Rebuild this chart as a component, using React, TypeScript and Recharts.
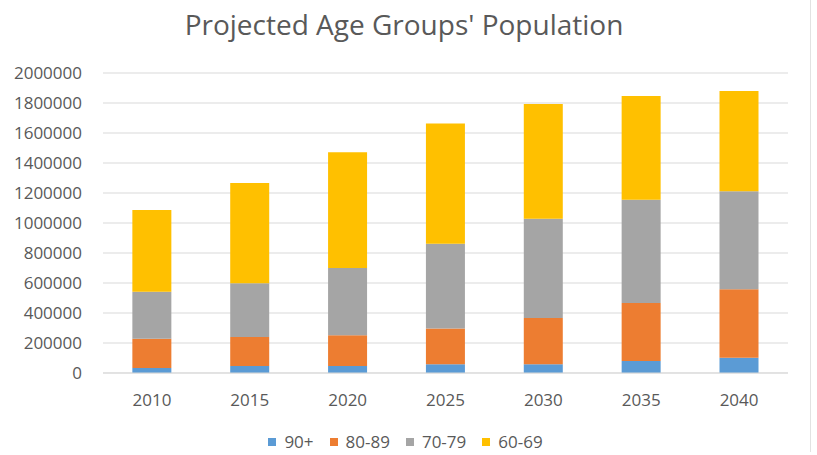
import React from 'react';
import { BarChart, Bar, XAxis, YAxis, CartesianGrid, Legend } from 'recharts';

const years = ['2010', '2015', '2020', '2025', '2030', '2035', '2040'];
const age90plus = [33000, 47000, 47000, 58000, 58000, 80000, 102000];
const age80to89 = [196000, 193000, 204000, 238000, 309000, 387000, 456000];
const age70to79 = [313000, 358000, 449000, 566000, 662000, 688000, 653000];
const age60to69 = [545000, 669000, 771000, 802000, 764000, 691000, 669000];
const yTicks = [0, 200000, 400000, 600000, 800000, 1000000, 1200000, 1400000, 1600000, 1800000, 2000000];

const seriesNames = ['90+', '80-89', '70-79', '60-69'];
const seriesColors = ['#5B9BD5', '#ED7D31', '#A5A5A5', '#FFC000'];

const data = years.map((y, i) => ({
  year: y,
  '90+': age90plus[i],
  '80-89': age80to89[i],
  '70-79': age70to79[i],
  '60-69': age60to69[i],
}));

const FONT = '"Open Sans", sans-serif';
const TEXT = '#595959';

const CustomLegend = () => (
  <div style={{ display: 'flex', justifyContent: 'center', alignItems: 'center', fontFamily: FONT, fontSize: 17, color: TEXT, paddingRight: 6 }}>
    {seriesNames.map((n, i) => (
      <div key={n} style={{ display: 'flex', alignItems: 'center', marginRight: i < 3 ? 16 : 0 }}>
        <span style={{ display: 'inline-block', width: 8, height: 8, background: seriesColors[i], marginRight: 8 }} />
        <span>{n}</span>
      </div>
    ))}
  </div>
);

export default function App() {
  return (
    <div style={{ position: 'absolute', left: 0, top: 0, width: 817, height: 455, background: '#fff' }}>
      <svg width={817} height={50} style={{ position: 'absolute', left: 0, top: 0 }}>
        <text x={404} y={35} textAnchor="middle" fontFamily={FONT} fontSize={28} fill={TEXT}>
          Projected Age Groups' Population
        </text>
      </svg>
      <div style={{ position: 'absolute', left: 810, top: 0, width: 1, height: 452, background: '#e2e2e2' }} />
      <div style={{ position: 'absolute', left: 0, top: 0 }}>
        <BarChart
          width={817}
          height={455}
          data={data}
          margin={{ top: 73, right: 29, bottom: 0, left: 0 }}
          barCategoryGap="30%"
        >
          <CartesianGrid vertical={false} stroke="#d9d9d9" />
          <XAxis
            dataKey="year"
            height={82}
            tickLine={false}
            tickSize={0}
            tickMargin={21}
            axisLine={{ stroke: '#d9d9d9' }}
            tick={{ fill: TEXT, fontSize: 17, fontFamily: FONT }}
          />
          <YAxis
            width={103}
            domain={[0, 2000000]}
            ticks={yTicks}
            interval={0}
            tickLine={false}
            tickSize={0}
            tickMargin={21}
            axisLine={false}
            tick={{ fill: TEXT, fontSize: 17, fontFamily: FONT }}
          />
          <Legend
            layout="horizontal"
            verticalAlign="middle"
            align="center"
            wrapperStyle={{ top: 430, left: 0, width: 817 }}
            content={() => <CustomLegend />}
          />
          {seriesNames.map((n, i) => (
            <Bar key={n} dataKey={n} stackId="a" fill={seriesColors[i]} isAnimationActive={false} />
          ))}
        </BarChart>
      </div>
    </div>
  );
}
